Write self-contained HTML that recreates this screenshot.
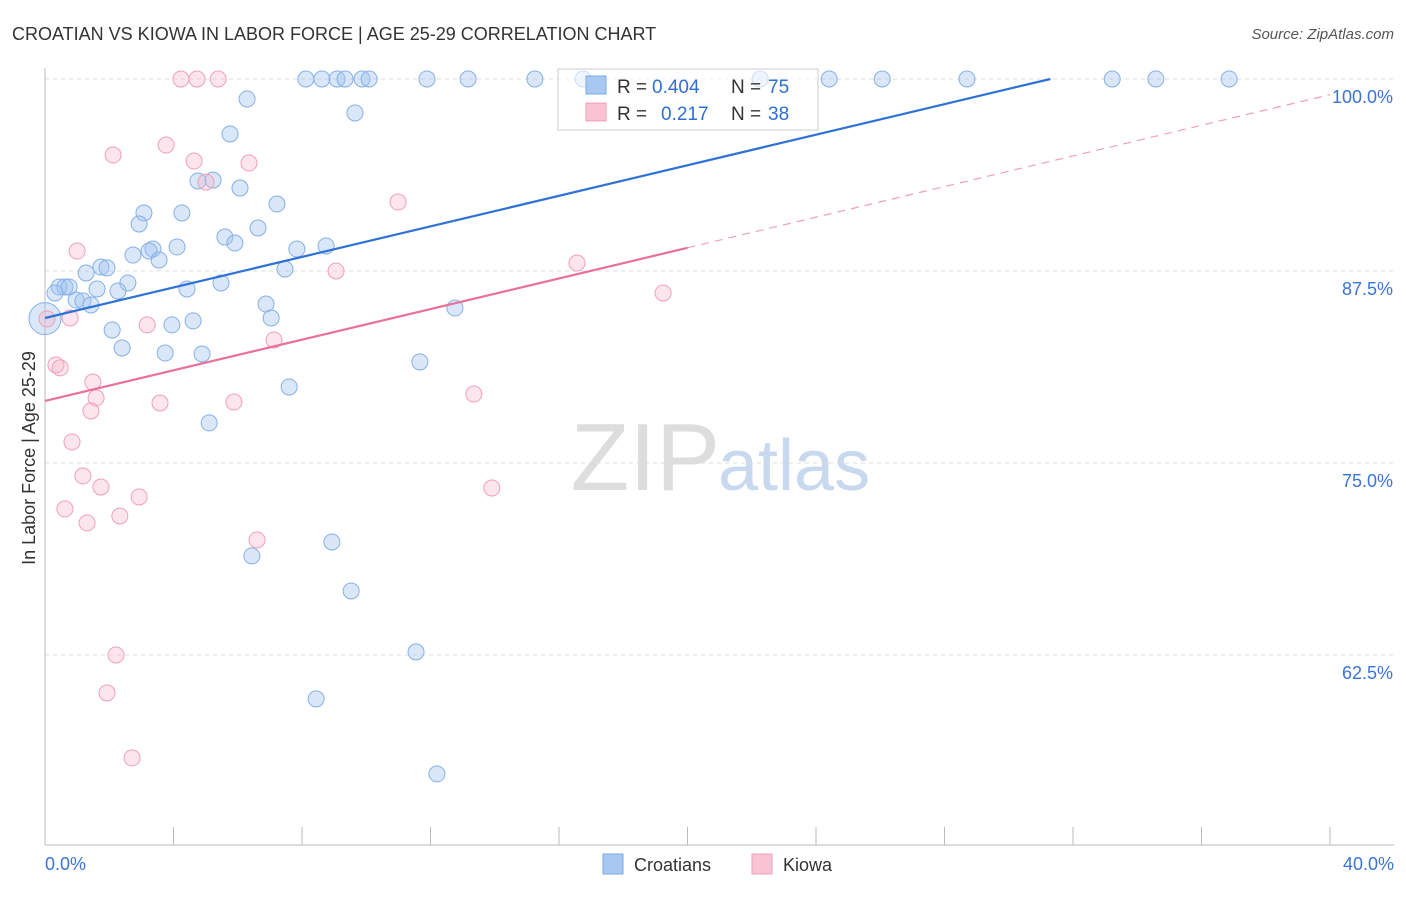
<!DOCTYPE html>
<html><head><meta charset="utf-8"><style>
body{margin:0;background:#fff;font-family:"Liberation Sans",sans-serif;}
svg text{font-family:"Liberation Sans",sans-serif;}
</style></head><body>
<svg id="chart" width="1406" height="892">
<text x="12" y="40" font-size="18" fill="#333">CROATIAN VS KIOWA IN LABOR FORCE | AGE 25-29 CORRELATION CHART</text>
<text x="1394" y="39" font-size="15" fill="#555" font-style="italic" text-anchor="end">Source: ZipAtlas.com</text>
<text x="35" y="458" font-size="18" fill="#333" text-anchor="middle" transform="rotate(-90 35 458)">In Labor Force | Age 25-29</text>
<text x="720" y="490" font-size="96" fill="#ddd" font-family="Liberation Serif" text-anchor="end">ZIP</text>
<text x="718" y="490" font-size="72" fill="#c8d8ee">atlas</text>
<g id="grid"></g><g id="axes"></g><g id="pts"></g><g id="lines"></g>
<g>
<rect x="558" y="69" width="260" height="61" fill="rgba(255,255,255,0.6)" stroke="#ccc"/>
<rect x="586" y="76" width="20" height="18" fill="#a8c8f0" stroke="#7aaae6"/>
<rect x="586" y="103" width="20" height="18" fill="#f8c4d4" stroke="#f0a0b8"/>
<text x="617" y="93" font-size="19" fill="#333">R =</text>
<text x="652" y="93" font-size="19" fill="#2f6fd0">0.404</text>
<text x="731" y="93" font-size="19" fill="#333">N =</text>
<text x="768" y="93" font-size="19" fill="#2f6fd0">75</text>
<text x="617" y="120" font-size="19" fill="#333">R =</text>
<text x="661" y="120" font-size="19" fill="#2f6fd0">0.217</text>
<text x="731" y="120" font-size="19" fill="#333">N =</text>
<text x="768" y="120" font-size="19" fill="#2f6fd0">38</text>
</g>
<g>
<rect x="603" y="854" width="20" height="20" fill="#a8c8f0" stroke="#7aaae6"/>
<text x="634" y="871" font-size="18" fill="#333">Croatians</text>
<rect x="752" y="854" width="20" height="20" fill="#f8c4d4" stroke="#f0a0b8"/>
<text x="783" y="871" font-size="18" fill="#333">Kiowa</text>
</g>
</svg>
<script>
const blueX=[8.12,8.62,9.09,9.34,9.87,10.09,11.89,13.17,15.25,16.75,22.26,24.41,26.06,28.70,33.22,34.58,36.86,6.29,9.65,5.76,4.76,5.23,6.07,7.22,3.08,4.26,2.93,6.63,5.60,5.91,3.36,3.24,4.11,2.74,7.84,8.75,3.55,1.74,1.93,1.28,7.47,0.44,0.62,0.75,2.58,5.48,1.62,4.42,2.27,0.97,1.18,1.43,6.88,12.76,7.04,4.61,3.95,2.09,2.40,3.74,4.89,11.67,7.60,5.11,8.93,6.44,9.53,11.55,8.44,12.20,0.31];
const blueY=[100,100,100,100,100,100,100,100,100,100,100,100,100,100,100,100,100,98.70,97.79,96.42,93.36,93.42,92.90,91.86,91.28,91.28,90.56,90.30,89.71,89.32,88.93,88.80,89.06,88.54,88.93,89.13,88.22,87.76,87.70,87.37,87.63,86.46,86.46,86.46,86.72,86.72,86.33,86.33,86.20,85.61,85.55,85.29,85.35,85.09,84.44,84.25,83.99,83.66,82.49,82.16,82.10,81.58,79.95,77.61,69.86,68.95,66.67,62.70,59.64,54.76,86.07];
const pinkX=[4.23,4.73,5.39,2.12,3.77,4.64,6.35,5.01,10.99,1.00,9.06,16.56,19.24,0.78,3.18,0.06,7.13,0.34,0.47,1.49,1.59,1.43,3.58,5.88,13.35,0.84,1.18,1.74,2.93,13.91,0.62,1.31,2.33,6.60,2.21,1.93,2.71];
const pinkY=[100,100,100,95.05,95.70,94.66,94.53,93.29,91.99,88.80,87.50,88.02,86.07,84.44,83.99,84.38,83.01,81.38,81.19,80.27,79.23,78.39,78.91,78.97,79.49,76.37,74.16,73.44,72.79,73.37,72.01,71.10,71.55,69.99,62.50,60.03,55.80];
const bigX=[0.0], bigY=[84.4];
const yTicks=[100,87.5,75,62.5];
const yTickLabels=["100.0%","87.5%","75.0%","62.5%"];
const xTicks=[0,4,8,12,16,20,24,28,32,36,40];
const blueLine=[84.44,0.4972];
const pinkLine=[79.04,0.4985];
const NS="http://www.w3.org/2000/svg";
const sx=v=>45+v/40*1285;
const sy=v=>79+(100-v)/12.5*192;
function mk(tag,attrs,parent){const e=document.createElementNS(NS,tag);for(const k in attrs)e.setAttribute(k,attrs[k]);document.getElementById(parent).appendChild(e);return e;}
yTicks.forEach((t,i)=>{
 const l=mk('line',{x1:45,x2:1394,y1:sy(t),y2:sy(t),stroke:'#ddd','stroke-dasharray':'4,4'},'grid');
 
 
 const tx=mk('text',{x:1393,y:sy(t)+24,'font-size':18,fill:'#3a74d4','text-anchor':'end'},'grid');
 tx.textContent=yTickLabels[i];
 
 
});
const ya=mk('line',{x1:45,x2:45,y1:68,y2:845,stroke:'#bbb'},'axes');


const xa=mk('line',{x1:45,x2:1394,y1:845,y2:845,stroke:'#bbb'},'axes');


xTicks.forEach(t=>{
 const l=mk('line',{x1:sx(t),x2:sx(t),y1:827,y2:845,stroke:'#bbb'},'axes');
 
 
});
const xl0=mk('text',{x:45,y:870,'font-size':18,fill:'#3a74d4'},'axes');xl0.textContent='0.0%';


const xl1=mk('text',{x:1394,y:870,'font-size':18,fill:'#3a74d4','text-anchor':'end'},'axes');xl1.textContent='40.0%';


blueX.forEach((x,i)=>{
 const c=mk('circle',{cx:sx(x),cy:sy(blueY[i]),r:8,fill:'rgba(160,196,240,0.4)',stroke:'#86b0e6','stroke-width':1},'pts');
 
 
});
bigX.forEach((x,i)=>{
 const c=mk('circle',{cx:sx(x),cy:sy(bigY[i]),r:16,fill:'rgba(160,196,240,0.4)',stroke:'#86b0e6','stroke-width':1},'pts');
 
 
});
pinkX.forEach((x,i)=>{
 const c=mk('circle',{cx:sx(x),cy:sy(pinkY[i]),r:8,fill:'rgba(246,180,200,0.35)',stroke:'#f0a0b8','stroke-width':1},'pts');
 
 
});
const bEnd=(100-blueLine[0])/blueLine[1];
const bl=mk('line',{x1:sx(0),y1:sy(blueLine[0]),x2:sx(bEnd),y2:sy(100),stroke:'#2f72d6','stroke-width':2.2},'lines');


const pl=mk('line',{x1:sx(0),y1:sy(pinkLine[0]),x2:sx(20),y2:sy(pinkLine[0]+pinkLine[1]*20),stroke:'#e8709a','stroke-width':2.2},'lines');


const pd=mk('line',{x1:sx(20),y1:sy(pinkLine[0]+pinkLine[1]*20),x2:sx(40),y2:sy(pinkLine[0]+pinkLine[1]*40),stroke:'#eea0b8','stroke-width':1.2,'stroke-dasharray':'8,6'},'lines');


</script>
</body></html>
